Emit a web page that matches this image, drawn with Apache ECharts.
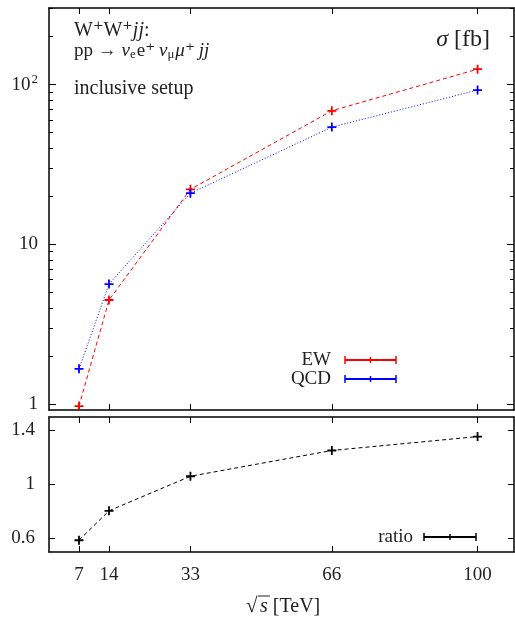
<!DOCTYPE html>
<html>
<head>
<meta charset="utf-8">
<script src="https://cdn.jsdelivr.net/npm/echarts@6/dist/echarts.min.js"></script>
<style>
  html, body { margin: 0; padding: 0; background: #fff; }
  #chart { width: 515px; height: 617px; }
</style>
</head>
<body>
<div id="chart"></div>
<script>
// sqrt(s) in TeV
const energies = [7, 14, 33, 66, 100];
// cross sections in fb
const ewXsec = [0.97, 4.48, 22.1, 68.6, 125];
const qcdXsec = [1.66, 5.64, 20.9, 54.2, 92.5];
// EW / QCD
const ratioVals = [0.587, 0.805, 1.061, 1.252, 1.355];

const xTicks = [7, 14, 33, 66, 100];
const yMajorTop = [1, 10, 100];
const yMinorTop = [2, 3, 4, 5, 6, 7, 8, 9, 20, 30, 40, 50, 60, 70, 80, 90, 200, 300];
const yTicksBottom = [0.6, 1, 1.4];

const FONT = "'Liberation Serif', 'DejaVu Serif', serif";
const LINE = { color: "#000", width: 1.5 };

function xAxisDef(grid, pos, labels) {
  return {
    type: "value",
    gridIndex: grid,
    position: pos,
    min: 0,
    max: 108.5,
    splitLine: { show: false },
    axisLine: { show: true, onZero: false, lineStyle: LINE },
    axisTick: { show: true, inside: true, length: 6, customValues: xTicks, lineStyle: { color: "#000", width: 1 } },
    axisLabel: {
      show: labels,
      customValues: xTicks,
      margin: 14,
      color: "#222",
      fontFamily: FONT,
      fontSize: 19,
    },
  };
}

function logAxisDef(pos, ticks, len, labels, line) {
  return {
    type: "log",
    gridIndex: 0,
    position: pos,
    min: 0.917,
    max: 302,
    splitLine: { show: false },
    axisLine: { show: line, onZero: false, lineStyle: LINE },
    axisTick: { show: true, inside: true, length: len, customValues: ticks, lineStyle: { color: "#000", width: 1 } },
    axisLabel: {
      show: labels,
      customValues: yMajorTop,
      margin: 11,
      color: "#222",
      fontFamily: FONT,
      fontSize: 19,
      formatter: (v) => (v >= 100 ? "{b|10}{s|2}" : "{b|" + v + "}"),
      rich: {
        b: { fontFamily: FONT, fontSize: 19, color: "#222" },
        s: { fontFamily: FONT, fontSize: 13, color: "#222", padding: [0, 0, 10, 1] },
      },
    },
  };
}

function ratioAxisDef(pos, labels) {
  return {
    type: "value",
    gridIndex: 1,
    position: pos,
    min: 0.5,
    max: 1.5,
    splitLine: { show: false },
    axisLine: { show: true, onZero: false, lineStyle: LINE },
    axisTick: { show: true, inside: true, length: 6, customValues: yTicksBottom, lineStyle: { color: "#000", width: 1 } },
    axisLabel: {
      show: labels,
      customValues: yTicksBottom,
      margin: 14,
      color: "#222",
      fontFamily: FONT,
      fontSize: 19,
    },
  };
}

const plus = "path://M-0.8,-4H0.8V-0.8H4V0.8H0.8V4H-0.8V0.8H-4V-0.8H-0.8Z";

function legendEntry(label, color, y, x0, x1, textRight) {
  const mid = (x0 + x1) / 2;
  return [
    { type: "text", style: { text: label, x: textRight, y: y, align: "right", verticalAlign: "middle", font: "19px " + FONT, fill: "#222" } },
    { type: "line", shape: { x1: x0, y1: y, x2: x1, y2: y }, style: { stroke: color, lineWidth: 1.8 } },
    { type: "line", shape: { x1: x0, y1: y - 4, x2: x0, y2: y + 4 }, style: { stroke: color, lineWidth: 1.5 } },
    { type: "line", shape: { x1: x1, y1: y - 4, x2: x1, y2: y + 4 }, style: { stroke: color, lineWidth: 1.5 } },
    { type: "line", shape: { x1: mid, y1: y - 3, x2: mid, y2: y + 3 }, style: { stroke: color, lineWidth: 1.5 } },
  ];
}

const chart = echarts.init(document.getElementById("chart"), null, { renderer: "canvas" });

chart.setOption({
  animation: false,
  backgroundColor: "#fff",
  grid: [
    { left: 49, right: 1, top: 8, height: 402 },
    { left: 49, right: 1, top: 417, height: 135 },
  ],
  xAxis: [
    xAxisDef(0, "bottom", false),
    xAxisDef(0, "top", false),
    xAxisDef(1, "bottom", true),
    xAxisDef(1, "top", false),
  ],
  yAxis: [
    logAxisDef("left", yMajorTop, 7, true, true),
    logAxisDef("left", yMinorTop, 4, false, false),
    logAxisDef("right", yMajorTop, 7, false, true),
    logAxisDef("right", yMinorTop, 4, false, false),
    ratioAxisDef("left", true),
    ratioAxisDef("right", false),
  ],
  series: [
    {
      name: "EW",
      type: "line",
      xAxisIndex: 0,
      yAxisIndex: 0,
      data: energies.map((e, i) => [e, ewXsec[i]]),
      symbol: plus,
      symbolSize: 9,
      itemStyle: { color: "#ff0000" },
      lineStyle: { color: "#ff0000", width: 1, type: [4, 3] },
    },
    {
      name: "QCD",
      type: "line",
      xAxisIndex: 0,
      yAxisIndex: 0,
      data: energies.map((e, i) => [e, qcdXsec[i]]),
      symbol: plus,
      symbolSize: 9,
      itemStyle: { color: "#0000ff" },
      lineStyle: { color: "#0000ff", width: 1, type: [1, 2] },
    },
    {
      name: "ratio",
      type: "line",
      xAxisIndex: 2,
      yAxisIndex: 4,
      data: energies.map((e, i) => [e, ratioVals[i]]),
      symbol: plus,
      symbolSize: 9,
      itemStyle: { color: "#000" },
      lineStyle: { color: "#000", width: 1, type: [4, 3] },
    },
  ],
  graphic: [
    {
      type: "text",
      style: {
        x: 74, y: 31,
        verticalAlign: "middle",
        text: "W\u207AW\u207A{i|jj}:",
        font: "20px " + FONT,
        fill: "#222",
        rich: { i: { fontFamily: FONT, fontSize: 20, fontStyle: "italic", fill: "#222" } },
      },
    },
    {
      type: "text",
      style: {
        x: 74, y: 51,
        verticalAlign: "middle",
        text: "pp \u2192 {i|\u03BD}{sub|e}e\u207A\u2009{i|\u03BD}{sub|\u03BC}{i|\u03BC}\u207A\u2009{i|jj}",
        font: "19px " + FONT,
        fill: "#222",
        rich: {
          i: { fontFamily: FONT, fontSize: 19, fontStyle: "italic", fill: "#222" },
          sub: { fontFamily: FONT, fontSize: 13, fill: "#222", padding: [7, 1, 0, 0] },
        },
      },
    },
    {
      type: "text",
      style: { x: 74, y: 89, verticalAlign: "middle", text: "inclusive setup", font: "20px " + FONT, fill: "#222" },
    },
    {
      type: "text",
      style: {
        x: 490, y: 40,
        align: "right",
        verticalAlign: "middle",
        text: "{i|\u03C3} [fb]",
        font: "24px " + FONT,
        fill: "#222",
        rich: { i: { fontFamily: FONT, fontSize: 24, fontStyle: "italic", fill: "#222" } },
      },
    },
    ...legendEntry("EW", "#ff0000", 360, 345, 396, 331),
    ...legendEntry("QCD", "#0000ff", 379, 345, 396, 331),
    ...legendEntry("ratio", "#000", 537, 424, 476, 413),
    {
      type: "text",
      style: { x: 246, y: 606, verticalAlign: "middle", text: "\u221A", font: "21px " + FONT, fill: "#222" },
    },
    {
      type: "line",
      shape: { x1: 258, y1: 596, x2: 270, y2: 596 },
      style: { stroke: "#222", lineWidth: 1 },
    },
    {
      type: "text",
      style: {
        x: 260, y: 607,
        verticalAlign: "middle",
        text: "{i|s} [TeV]",
        font: "20px " + FONT,
        fill: "#222",
        rich: { i: { fontFamily: FONT, fontSize: 20, fontStyle: "italic", fill: "#222" } },
      },
    },
  ],
});
</script>
</body>
</html>
